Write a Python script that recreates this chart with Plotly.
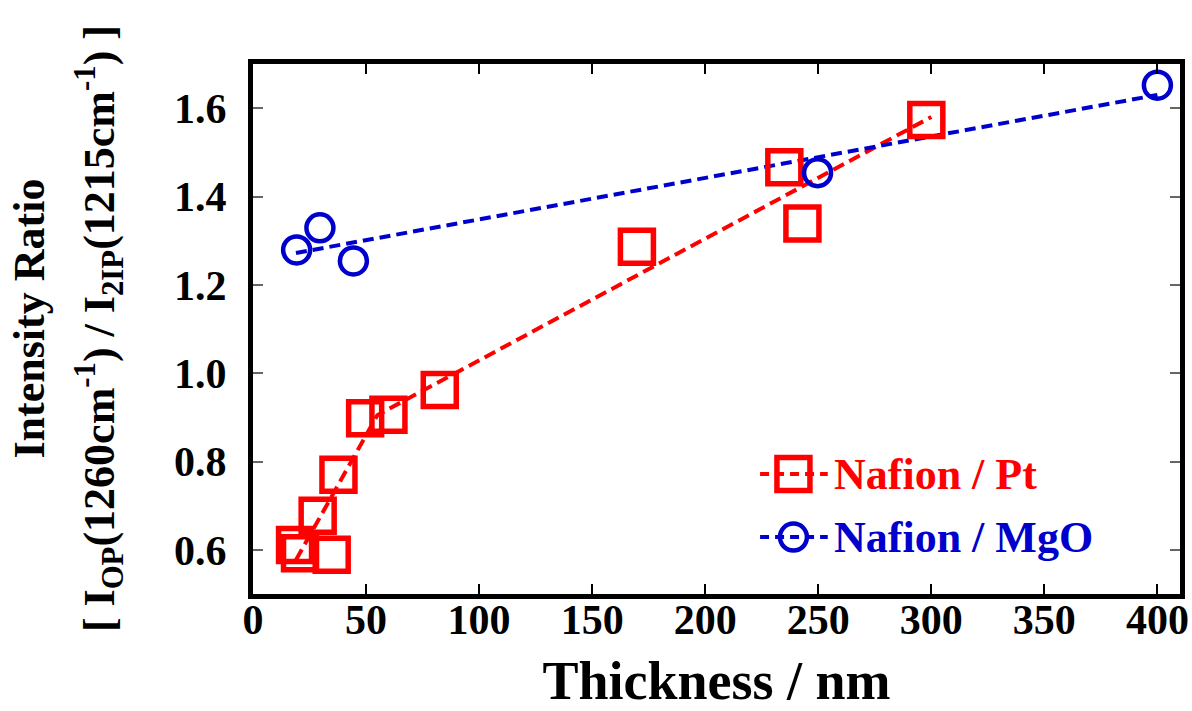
import plotly.graph_objects as go

# ---- data ----
pt_x = [18.6, 20.8, 34.8, 28.6, 37.8, 49.6, 59.9, 82.6, 169.8, 235.0, 243.0, 297.8]
pt_y = [0.611, 0.592, 0.589, 0.677, 0.770, 0.898, 0.906, 0.962, 1.286, 1.466, 1.339, 1.573]
pt_fit_x = [19, 55, 300]
pt_fit_y = [0.577, 0.905, 1.58]

mgo_x = [19.3, 29.6, 44.4, 249.7, 400.0]
mgo_y = [1.279, 1.329, 1.254, 1.454, 1.652]
mgo_fit_x = [19, 400]
mgo_fit_y = [1.272, 1.630]

x_ticks = [0, 50, 100, 150, 200, 250, 300, 350, 400]
y_ticks = [0.6, 0.8, 1.0, 1.2, 1.4, 1.6]

series_names = ["Nafion / Pt", "Nafion / MgO"]
RED = "#ff0000"
BLUE = "#0000cc"
FONT = "Liberation Serif, Times New Roman, serif"

fig = go.Figure()

# fit lines
fig.add_trace(go.Scatter(x=pt_fit_x, y=pt_fit_y, mode="lines",
                         line=dict(color=RED, width=4, dash="12px,6px"),
                         showlegend=False, hoverinfo="skip"))
fig.add_trace(go.Scatter(x=mgo_fit_x, y=mgo_fit_y, mode="lines",
                         line=dict(color=BLUE, width=4, dash="11px,6px"),
                         showlegend=False, hoverinfo="skip"))
# data markers
fig.add_trace(go.Scatter(x=pt_x, y=pt_y, mode="markers", name=series_names[0],
                         marker=dict(symbol="square-open", size=33, color=RED,
                                     line=dict(color=RED, width=5.5)),
                         showlegend=False))
fig.add_trace(go.Scatter(x=mgo_x, y=mgo_y, mode="markers", name=series_names[1],
                         marker=dict(symbol="circle-open", size=27, color=BLUE,
                                     line=dict(color=BLUE, width=4.5)),
                         showlegend=False))

# ---- hand-made legend on a hidden overlay axis pair (0..1 = plot area) ----
leg_x0, leg_x1, leg_xm = 0.547, 0.620, 0.583
leg_rows = [0.2264, 0.1075]
leg_specs = [(RED, "square-open", 33, 5.5), (BLUE, "circle-open", 27, 4.5)]
for (col, sym, sz, lw), yy, nm in zip(leg_specs, leg_rows, series_names):
    fig.add_trace(go.Scatter(x=[leg_x0, leg_x1], y=[yy, yy], mode="lines",
                             line=dict(color=col, width=4, dash="9px,6px"),
                             xaxis="x2", yaxis="y2", showlegend=False, hoverinfo="skip"))
    fig.add_trace(go.Scatter(x=[leg_xm], y=[yy], mode="markers",
                             marker=dict(symbol=sym, size=sz, color=col, line=dict(color=col, width=lw)),
                             xaxis="x2", yaxis="y2", showlegend=False, hoverinfo="skip"))
    fig.add_annotation(x=0.6246, y=yy, xref="paper", yref="paper", text=nm,
                       showarrow=False, xanchor="left", yanchor="middle",
                       font=dict(family=FONT, size=44, color=col, weight="bold"))

# y-axis titles (two lines)
fig.add_annotation(x=-0.241, y=0.519, xref="paper", yref="paper", text="Intensity Ratio",
                   showarrow=False, textangle=-90, xanchor="center", yanchor="middle",
                   font=dict(family=FONT, size=44, color="black", weight="bold"))
fig.add_annotation(x=-0.166, y=0.5, xref="paper", yref="paper",
                   text="[ I<sub>OP</sub>(1260cm<sup>-1</sup>) / I<sub>2IP</sub>(1215cm<sup>-1</sup>) ]",
                   showarrow=False, textangle=-90, xanchor="center", yanchor="middle",
                   font=dict(family=FONT, size=44, color="black", weight="bold"))

axis_common = dict(showline=True, linewidth=5, linecolor="black", mirror="ticks",
                   ticks="inside", ticklen=10, showgrid=False, zeroline=False,
                   automargin=False,
                   tickfont=dict(family=FONT, size=42, color="black", weight="bold"))

fig.update_layout(
    width=1192, height=711, autosize=False,
    margin=dict(l=253, r=12, t=64, b=117),
    paper_bgcolor="white", plot_bgcolor="white",
    showlegend=False,
    xaxis=dict(range=[0, 410], tickvals=x_ticks, tickwidth=2, tickcolor="black",
               ticklabelstandoff=-15,
               title=dict(text="Thickness / nm", standoff=31,
                          font=dict(family=FONT, size=54, color="black", weight="bold")),
               **axis_common),
    yaxis=dict(range=[0.5, 1.7], tickvals=y_ticks, tickformat=".1f", tickwidth=2,
               tickcolor="#666666", ticklabelstandoff=13, **axis_common),
    xaxis2=dict(range=[0, 1], overlaying="x", visible=False),
    yaxis2=dict(range=[0, 1], overlaying="y", visible=False),
)

fig.write_html("out.html", config={"displayModeBar": False},
               post_script="document.body.style.margin='0px';")
